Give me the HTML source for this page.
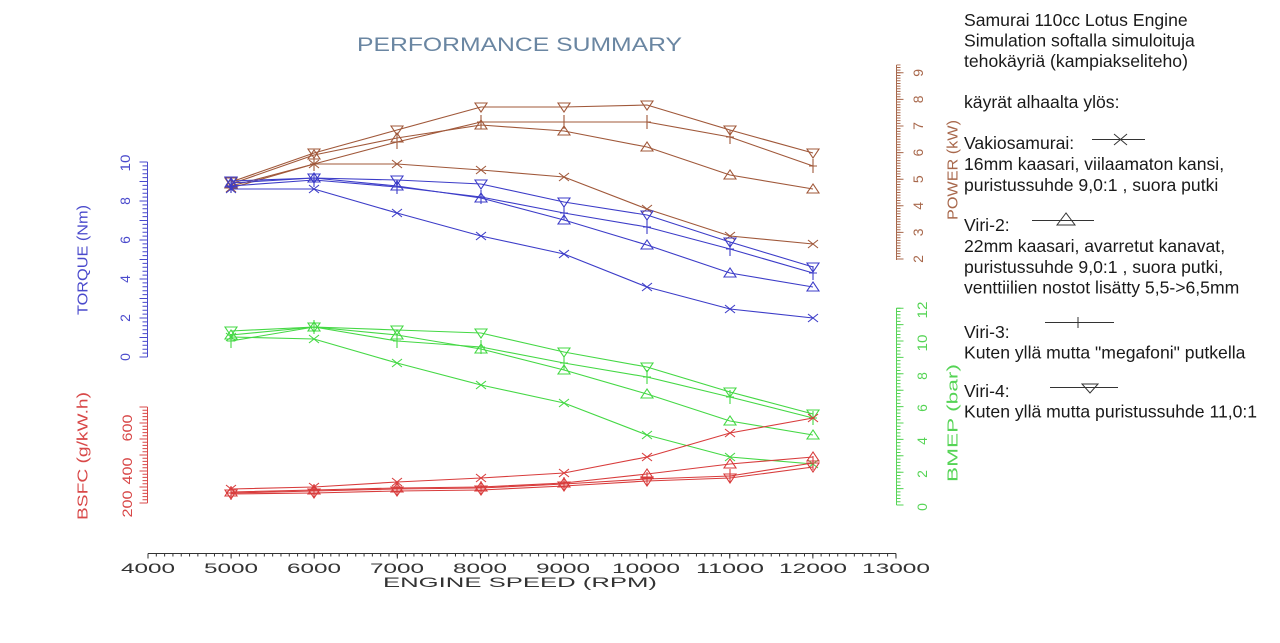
<!DOCTYPE html>
<html>
<head>
<meta charset="utf-8">
<style>
html,body{margin:0;padding:0;background:#fff;}
svg{display:block;}
</style>
</head>
<body>
<svg width="1280" height="643" viewBox="0 0 1280 643" xmlns="http://www.w3.org/2000/svg">
<rect width="1280" height="643" fill="#fff"/>
<defs>
  <marker id="xB" markerUnits="userSpaceOnUse" markerWidth="1" markerHeight="1" refX="0" refY="0" overflow="visible"><path d="M-5,-4L5,4M-5,4L5,-4" stroke="#3c3cc8" fill="none" stroke-width="1.1"/></marker>
  <marker id="tB" markerUnits="userSpaceOnUse" markerWidth="1" markerHeight="1" refX="0" refY="0" overflow="visible"><path d="M0,-5L-6,4L6,4Z" stroke="#3c3cc8" fill="none" stroke-width="1.1"/></marker>
  <marker id="pB" markerUnits="userSpaceOnUse" markerWidth="1" markerHeight="1" refX="0" refY="0" overflow="visible"><path d="M0,-7V7M-4,0H4" stroke="#3c3cc8" fill="none" stroke-width="1.1"/></marker>
  <marker id="vB" markerUnits="userSpaceOnUse" markerWidth="1" markerHeight="1" refX="0" refY="0" overflow="visible"><path d="M-6,-4H6L0,5Z" stroke="#3c3cc8" fill="none" stroke-width="1.1"/></marker>

  <marker id="xP" markerUnits="userSpaceOnUse" markerWidth="1" markerHeight="1" refX="0" refY="0" overflow="visible"><path d="M-5,-4L5,4M-5,4L5,-4" stroke="#a0583a" fill="none" stroke-width="1.1"/></marker>
  <marker id="tP" markerUnits="userSpaceOnUse" markerWidth="1" markerHeight="1" refX="0" refY="0" overflow="visible"><path d="M0,-5L-6,4L6,4Z" stroke="#a0583a" fill="none" stroke-width="1.1"/></marker>
  <marker id="pP" markerUnits="userSpaceOnUse" markerWidth="1" markerHeight="1" refX="0" refY="0" overflow="visible"><path d="M0,-7V7M-4,0H4" stroke="#a0583a" fill="none" stroke-width="1.1"/></marker>
  <marker id="vP" markerUnits="userSpaceOnUse" markerWidth="1" markerHeight="1" refX="0" refY="0" overflow="visible"><path d="M-6,-4H6L0,5Z" stroke="#a0583a" fill="none" stroke-width="1.1"/></marker>

  <marker id="xG" markerUnits="userSpaceOnUse" markerWidth="1" markerHeight="1" refX="0" refY="0" overflow="visible"><path d="M-5,-4L5,4M-5,4L5,-4" stroke="#44d844" fill="none" stroke-width="1.1"/></marker>
  <marker id="tG" markerUnits="userSpaceOnUse" markerWidth="1" markerHeight="1" refX="0" refY="0" overflow="visible"><path d="M0,-5L-6,4L6,4Z" stroke="#44d844" fill="none" stroke-width="1.1"/></marker>
  <marker id="pG" markerUnits="userSpaceOnUse" markerWidth="1" markerHeight="1" refX="0" refY="0" overflow="visible"><path d="M0,-7V7M-4,0H4" stroke="#44d844" fill="none" stroke-width="1.1"/></marker>
  <marker id="vG" markerUnits="userSpaceOnUse" markerWidth="1" markerHeight="1" refX="0" refY="0" overflow="visible"><path d="M-6,-4H6L0,5Z" stroke="#44d844" fill="none" stroke-width="1.1"/></marker>

  <marker id="xR" markerUnits="userSpaceOnUse" markerWidth="1" markerHeight="1" refX="0" refY="0" overflow="visible"><path d="M-5,-4L5,4M-5,4L5,-4" stroke="#d83c3c" fill="none" stroke-width="1.1"/></marker>
  <marker id="tR" markerUnits="userSpaceOnUse" markerWidth="1" markerHeight="1" refX="0" refY="0" overflow="visible"><path d="M0,-5L-6,4L6,4Z" stroke="#d83c3c" fill="none" stroke-width="1.1"/></marker>
  <marker id="pR" markerUnits="userSpaceOnUse" markerWidth="1" markerHeight="1" refX="0" refY="0" overflow="visible"><path d="M0,-7V7M-4,0H4" stroke="#d83c3c" fill="none" stroke-width="1.1"/></marker>
  <marker id="vR" markerUnits="userSpaceOnUse" markerWidth="1" markerHeight="1" refX="0" refY="0" overflow="visible"><path d="M-6,-4H6L0,5Z" stroke="#d83c3c" fill="none" stroke-width="1.1"/></marker>
</defs>

<!-- Title -->
<text x="357" y="51" textLength="325" lengthAdjust="spacingAndGlyphs" font-family="Liberation Sans, sans-serif" font-size="19" fill="#6a86a2">PERFORMANCE SUMMARY</text>

<!-- X axis -->
<g stroke="#333" fill="none">
  <line x1="148" y1="553.5" x2="896" y2="553.5" stroke-width="1"/>
  <line x1="147.5" y1="555" x2="897" y2="555" stroke-width="3" stroke-dasharray="1 7.31"/>
  <line x1="147.5" y1="556" x2="897" y2="556" stroke-width="5" stroke-dasharray="1 82.11"/>
</g>
<g font-family="Liberation Sans, sans-serif" font-size="14" fill="#333" text-anchor="middle">
  <text x="148" y="573" textLength="54" lengthAdjust="spacingAndGlyphs">4000</text>
  <text x="231" y="573" textLength="54" lengthAdjust="spacingAndGlyphs">5000</text>
  <text x="314" y="573" textLength="54" lengthAdjust="spacingAndGlyphs">6000</text>
  <text x="397" y="573" textLength="54" lengthAdjust="spacingAndGlyphs">7000</text>
  <text x="480" y="573" textLength="54" lengthAdjust="spacingAndGlyphs">8000</text>
  <text x="563" y="573" textLength="54" lengthAdjust="spacingAndGlyphs">9000</text>
  <text x="646" y="573" textLength="68" lengthAdjust="spacingAndGlyphs">10000</text>
  <text x="730" y="573" textLength="68" lengthAdjust="spacingAndGlyphs">11000</text>
  <text x="813" y="573" textLength="68" lengthAdjust="spacingAndGlyphs">12000</text>
  <text x="896" y="573" textLength="68" lengthAdjust="spacingAndGlyphs">13000</text>
</g>
<text x="383" y="587" textLength="274" lengthAdjust="spacingAndGlyphs" font-family="Liberation Sans, sans-serif" font-size="14" fill="#333">ENGINE SPEED (RPM)</text>

<!-- Torque axis (blue) -->
<g stroke="#4a4acc" fill="none">
  <line x1="147.5" y1="357" x2="147.5" y2="162" stroke-width="1"/>
  <line x1="145" y1="357.5" x2="145" y2="161.5" stroke-width="5" stroke-dasharray="1 2.9"/>
  <line x1="143.5" y1="357.5" x2="143.5" y2="161.5" stroke-width="8" stroke-dasharray="1 18.5"/>
</g>
<g font-family="Liberation Sans, sans-serif" font-size="14" fill="#4a4acc" text-anchor="middle">
  <text transform="translate(125,357) rotate(-90)" y="5">0</text>
  <text transform="translate(125,318) rotate(-90)" y="5">2</text>
  <text transform="translate(125,279) rotate(-90)" y="5">4</text>
  <text transform="translate(125,240) rotate(-90)" y="5">6</text>
  <text transform="translate(125,201) rotate(-90)" y="5">8</text>
  <text transform="translate(125,163) rotate(-90)" y="5" textLength="17" lengthAdjust="spacingAndGlyphs">10</text>
  <text transform="translate(82,260) rotate(-90)" y="5.5" font-size="15" textLength="110" lengthAdjust="spacingAndGlyphs">TORQUE (Nm)</text>
</g>

<!-- BSFC axis (red) -->
<g stroke="#d84848" fill="none">
  <line x1="147.5" y1="503" x2="147.5" y2="407" stroke-width="1"/>
  <line x1="145" y1="503.5" x2="145" y2="406.5" stroke-width="5" stroke-dasharray="1 2.2"/>
  <line x1="143.5" y1="503.5" x2="143.5" y2="406.5" stroke-width="8" stroke-dasharray="1 15"/>
</g>
<g font-family="Liberation Sans, sans-serif" font-size="14" fill="#d84848" text-anchor="middle">
  <text transform="translate(127,504) rotate(-90)" y="5" textLength="27" lengthAdjust="spacingAndGlyphs">200</text>
  <text transform="translate(127,471) rotate(-90)" y="5" textLength="27" lengthAdjust="spacingAndGlyphs">400</text>
  <text transform="translate(127,428) rotate(-90)" y="5" textLength="27" lengthAdjust="spacingAndGlyphs">600</text>
  <text transform="translate(82,456) rotate(-90)" y="5.5" font-size="15" textLength="128" lengthAdjust="spacingAndGlyphs">BSFC (g/kW.h)</text>
</g>

<!-- Power axis (brown) -->
<g stroke="#a8684c" fill="none">
  <line x1="896.5" y1="65" x2="896.5" y2="260" stroke-width="1"/>
  <line x1="898.5" y1="259.5" x2="898.5" y2="64.5" stroke-width="4" stroke-dasharray="1 1.66"/>
  <line x1="900" y1="259.5" x2="900" y2="64.5" stroke-width="7" stroke-dasharray="1 25.6"/>
</g>
<g font-family="Liberation Sans, sans-serif" font-size="14" fill="#a8684c" text-anchor="middle">
  <text transform="translate(918,259) rotate(-90)" y="5">2</text>
  <text transform="translate(918,232.4) rotate(-90)" y="5">3</text>
  <text transform="translate(918,205.8) rotate(-90)" y="5">4</text>
  <text transform="translate(918,179.2) rotate(-90)" y="5">5</text>
  <text transform="translate(918,152.6) rotate(-90)" y="5">6</text>
  <text transform="translate(918,126) rotate(-90)" y="5">7</text>
  <text transform="translate(918,99.4) rotate(-90)" y="5">8</text>
  <text transform="translate(918,72.8) rotate(-90)" y="5">9</text>
  <text transform="translate(952,170) rotate(-90)" y="5.5" font-size="15" textLength="100" lengthAdjust="spacingAndGlyphs">POWER (kW)</text>
</g>

<!-- BMEP axis (green) -->
<g stroke="#55d455" fill="none">
  <line x1="896.5" y1="308" x2="896.5" y2="505" stroke-width="1"/>
  <line x1="898.5" y1="505.5" x2="898.5" y2="307.5" stroke-width="4" stroke-dasharray="1 2.28"/>
  <line x1="900" y1="505.5" x2="900" y2="307.5" stroke-width="7" stroke-dasharray="1 15.4"/>
</g>
<g font-family="Liberation Sans, sans-serif" font-size="14" fill="#55d455" text-anchor="middle">
  <text transform="translate(922,507) rotate(-90)" y="5">0</text>
  <text transform="translate(922,474) rotate(-90)" y="5">2</text>
  <text transform="translate(922,441) rotate(-90)" y="5">4</text>
  <text transform="translate(922,408) rotate(-90)" y="5">6</text>
  <text transform="translate(922,376) rotate(-90)" y="5">8</text>
  <text transform="translate(922,343) rotate(-90)" y="5" textLength="17" lengthAdjust="spacingAndGlyphs">10</text>
  <text transform="translate(922,310) rotate(-90)" y="5" textLength="17" lengthAdjust="spacingAndGlyphs">12</text>
  <text transform="translate(952,423) rotate(-90)" y="5.5" font-size="15" textLength="118" lengthAdjust="spacingAndGlyphs">BMEP (bar)</text>
</g>

<!-- Series -->
<g fill="none" stroke-width="1.1" stroke-linejoin="round">
  <!-- Power -->
  <polyline stroke="#a0583a" marker-start="url(#xP)" marker-mid="url(#xP)" marker-end="url(#xP)" points="231,188 314,164 397,164 481,170 564,177 647,209 730,236 813,244"/>
  <polyline stroke="#a0583a" marker-start="url(#tP)" marker-mid="url(#tP)" marker-end="url(#tP)" points="231,184 314,155 397,138 481,125 564,131 647,147 730,175 813,189"/>
  <polyline stroke="#a0583a" marker-start="url(#pP)" marker-mid="url(#pP)" marker-end="url(#pP)" points="231,186 314,164 397,142 481,122 564,122 647,122 730,137 813,166"/>
  <polyline stroke="#a0583a" marker-start="url(#vP)" marker-mid="url(#vP)" marker-end="url(#vP)" points="231,182 314,153 397,130 481,107 564,107 647,105 730,130 813,153"/>
  <!-- Torque -->
  <polyline stroke="#3c3cc8" marker-start="url(#xB)" marker-mid="url(#xB)" marker-end="url(#xB)" points="231,189 314,189 397,213 481,236 564,254 647,287 730,309 813,318"/>
  <polyline stroke="#3c3cc8" marker-start="url(#tB)" marker-mid="url(#tB)" marker-end="url(#tB)" points="231,183 314,178 397,186 481,198 564,220 647,245 730,273 813,287"/>
  <polyline stroke="#3c3cc8" marker-start="url(#pB)" marker-mid="url(#pB)" marker-end="url(#pB)" points="231,186 314,180 397,187 481,197 564,213 647,227 730,249 813,273"/>
  <polyline stroke="#3c3cc8" marker-start="url(#vB)" marker-mid="url(#vB)" marker-end="url(#vB)" points="231,181 314,178 397,180 481,184 564,202 647,215 730,242 813,267"/>
  <!-- BMEP -->
  <polyline stroke="#44d844" marker-start="url(#xG)" marker-mid="url(#xG)" marker-end="url(#xG)" points="231,337 314,339 397,363 481,385 564,403 647,435 730,457 813,464"/>
  <polyline stroke="#44d844" marker-start="url(#tG)" marker-mid="url(#tG)" marker-end="url(#tG)" points="231,335 314,327 397,335 481,349 564,370 647,394 730,421 813,435"/>
  <polyline stroke="#44d844" marker-start="url(#pG)" marker-mid="url(#pG)" marker-end="url(#pG)" points="231,341 314,327 397,341 481,347 564,363 647,377 730,397 813,418"/>
  <polyline stroke="#44d844" marker-start="url(#vG)" marker-mid="url(#vG)" marker-end="url(#vG)" points="231,331 314,327 397,330 481,333 564,352 647,367 730,392 813,414"/>
  <!-- BSFC -->
  <polyline stroke="#d83c3c" marker-start="url(#xR)" marker-mid="url(#xR)" marker-end="url(#xR)" points="231,489 314,487 397,482 481,478 564,473 647,457 730,433 813,418"/>
  <polyline stroke="#d83c3c" marker-start="url(#tR)" marker-mid="url(#tR)" marker-end="url(#tR)" points="231,492 314,490 397,488 481,487 564,483 647,474 730,464 813,457"/>
  <polyline stroke="#d83c3c" marker-start="url(#pR)" marker-mid="url(#pR)" marker-end="url(#pR)" points="231,493 314,491 397,489 481,488 564,484 647,479 730,476 813,463"/>
  <polyline stroke="#d83c3c" marker-start="url(#vR)" marker-mid="url(#vR)" marker-end="url(#vR)" points="231,494 314,493 397,491 481,490 564,486 647,481 730,478 813,467"/>
</g>

<!-- Legend text -->
<g font-family="Liberation Sans, Arial, sans-serif" font-size="17.6" fill="#1a1a1a">
  <text x="964" y="26">Samurai 110cc Lotus Engine</text>
  <text x="964" y="46.5">Simulation softalla simuloituja</text>
  <text x="964" y="67">tehokäyriä (kampiakseliteho)</text>
  <text x="964" y="108">käyrät alhaalta ylös:</text>
  <text x="964" y="149">Vakiosamurai:</text>
  <text x="964" y="170">16mm kaasari, viilaamaton kansi,</text>
  <text x="964" y="191">puristussuhde 9,0:1 , suora putki</text>
  <text x="964" y="231">Viri-2:</text>
  <text x="964" y="252">22mm kaasari, avarretut kanavat,</text>
  <text x="964" y="273">puristussuhde 9,0:1 , suora putki,</text>
  <text x="964" y="293.5">venttiilien nostot lisätty 5,5-&gt;6,5mm</text>
  <text x="964" y="338">Viri-3:</text>
  <text x="964" y="358.5">Kuten yllä mutta &quot;megafoni&quot; putkella</text>
  <text x="964" y="397">Viri-4:</text>
  <text x="964" y="417.5">Kuten yllä mutta puristussuhde 11,0:1</text>
</g>

<!-- Legend samples -->
<g stroke="#333" fill="none" stroke-width="1">
  <line x1="1092" y1="139.5" x2="1145" y2="139.5"/>
  <path d="M1114,134L1127,145M1114,145L1127,134"/>
  <line x1="1032" y1="220.5" x2="1094" y2="220.5"/>
  <path d="M1066,213L1057,225H1075Z"/>
  <line x1="1045" y1="322.5" x2="1114" y2="322.5"/>
  <path d="M1078,317V328"/>
  <line x1="1050" y1="387.5" x2="1118" y2="387.5"/>
  <path d="M1082,384H1098L1090,393Z"/>
</g>
</svg>
</body>
</html>
